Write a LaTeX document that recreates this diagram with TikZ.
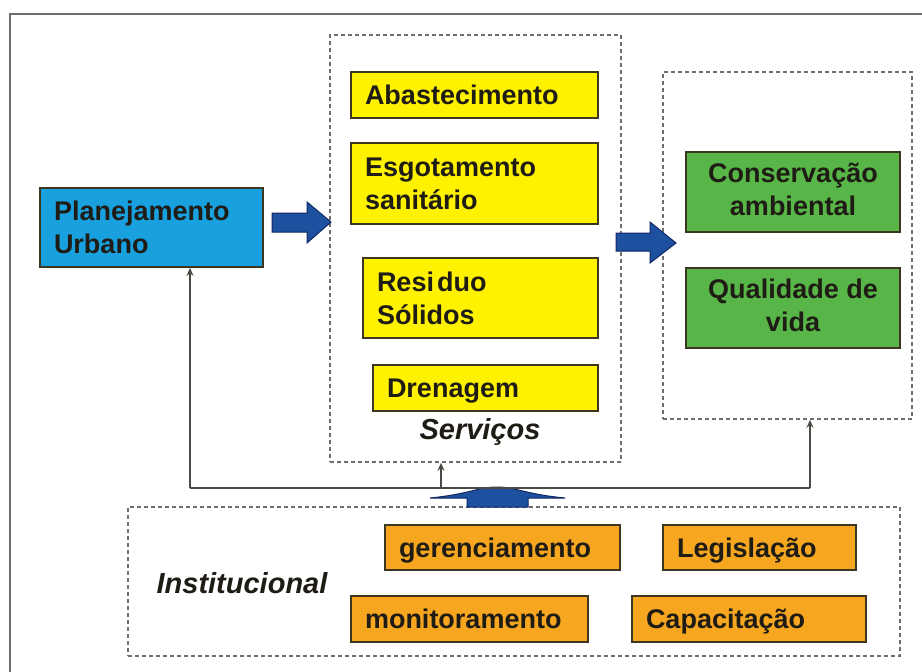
\documentclass[tikz,border=0pt]{standalone}
\usepackage{fontspec}
\setmainfont{Liberation Sans}
\usepackage{xcolor}
\usepackage{tikz}
\usetikzlibrary{shapes,arrows,positioning,calc,arrows.meta}

\definecolor{planblue}{RGB}{25,160,222}
\definecolor{servyellow}{RGB}{255,242,0}
\definecolor{resgreen}{RGB}{88,182,72}
\definecolor{instorange}{RGB}{247,166,32}
\definecolor{boxline}{RGB}{60,55,30}
\definecolor{arrowblue}{RGB}{30,80,160}
\definecolor{arrowedge}{RGB}{15,40,100}
\definecolor{framegray}{RGB}{110,110,110}
\definecolor{txtdark}{RGB}{30,28,20}
\newcommand{\boxfont}{\fontsize{27}{33}\selectfont\bfseries}
\newcommand{\boxstrut}{\rule[-6pt]{0pt}{31.5pt}}

\begin{document}
\begin{tikzpicture}[x=1pt,y=-1pt,
    box/.style={draw=boxline, line width=1.8, inner xsep=14, inner ysep=0,
        font=\boxfont, text=txtdark,
        execute at begin node=\boxstrut, execute at end node=\boxstrut},
    leftbox/.style={box, align=left},
    group/.style={draw=framegray, line width=1.6, dash pattern=on 4 off 3},
    label/.style={font=\fontsize{29}{33}\selectfont\bfseries\itshape, text=txtdark},
    feed/.style={draw=txtdark!80, line width=1.5},
    blockarrow/.style={fill=arrowblue, draw=arrowedge, line width=1}]
    \useasboundingbox (0,0) rectangle (922,672);
    % Frame
    \draw[framegray, line width=2] (10,680) -- (10,14) -- (930,14);
    % Groups
    \node[group, minimum width=291, minimum height=427] (servgroup) at (475.5,248.5) {};
    \node[group, minimum width=249, minimum height=347] (resgroup) at (787.5,245.5) {};
    \node[group, minimum width=772, minimum height=149] (instgroup) at (514,581.5) {};
    % Planning
    \node[leftbox, fill=planblue, text width=195, minimum height=79] (plan) at (151.5,227.5) {Planejamento\\Urbano};
    % Services
    \node[leftbox, fill=servyellow, text width=219, minimum height=46] (abast) at (474.5,95) {Abastecimento};
    \node[leftbox, fill=servyellow, text width=219, minimum height=81] (esgot) at (474.5,183.5) {Esgotamento\\sanitário};
    \node[leftbox, fill=servyellow, text width=207, minimum height=80] (resid) at (480.5,298) {Resi\kern3pt duo\\Sólidos};
    \node[leftbox, fill=servyellow, text width=197, minimum height=46] (dren) at (485.5,388) {Drenagem};
    \node[label] (servlabel) at (480,432) {Serviços};
    % Results
    \node[box, fill=resgreen, align=center, minimum width=214, minimum height=80] (conserv) at (793,192) {Conservação\\ambiental};
    \node[box, fill=resgreen, align=center, minimum width=214, minimum height=80] (qualid) at (793,308) {Qualidade de\\vida};
    % Institutional
    \node[leftbox, fill=instorange, text width=207, minimum height=45] (geren) at (502.5,547.5) {gerenciamento};
    \node[leftbox, fill=instorange, text width=165, minimum height=45] (legis) at (759.5,547.5) {Legislação};
    \node[leftbox, fill=instorange, text width=209, minimum height=46] (monit) at (469.5,619) {monitoramento};
    \node[leftbox, fill=instorange, text width=206, minimum height=46] (capac) at (749,619) {Capacitação};
    \node[label] (instlabel) at (242,583) {Institucional};
    % Block arrows
    \draw[blockarrow] (272,213) -- (307,213) -- (307,202) -- (331,222) -- (307,243) -- (307,232) -- (272,232) -- cycle;
    \draw[blockarrow] (616,233) -- (650,233) -- (650,222) -- (676,243) -- (650,263) -- (650,251) -- (616,251) -- cycle;
    \draw[blockarrow] (430,498) .. controls (470,494) and (478,487) .. (497,487)
        .. controls (516,487) and (524,494) .. (565,498) -- (528,498) -- (528,507)
        -- (467,507) -- (467,498) -- cycle;
    % Feedback lines
    \coordinate (bl) at (190,488);
    \coordinate (bm) at (441,488);
    \coordinate (br) at (810,488);
    \draw[feed] (bl) -- (br);
    \draw[feed, -{Stealth[length=8,width=7]}] (bl) -- (bl |- plan.south);
    \draw[feed, -{Stealth[length=8,width=7]}] (bm) -- (bm |- servgroup.south);
    \draw[feed, -{Stealth[length=8,width=7]}] (br) -- (br |- resgroup.south);
\end{tikzpicture}
\end{document}
